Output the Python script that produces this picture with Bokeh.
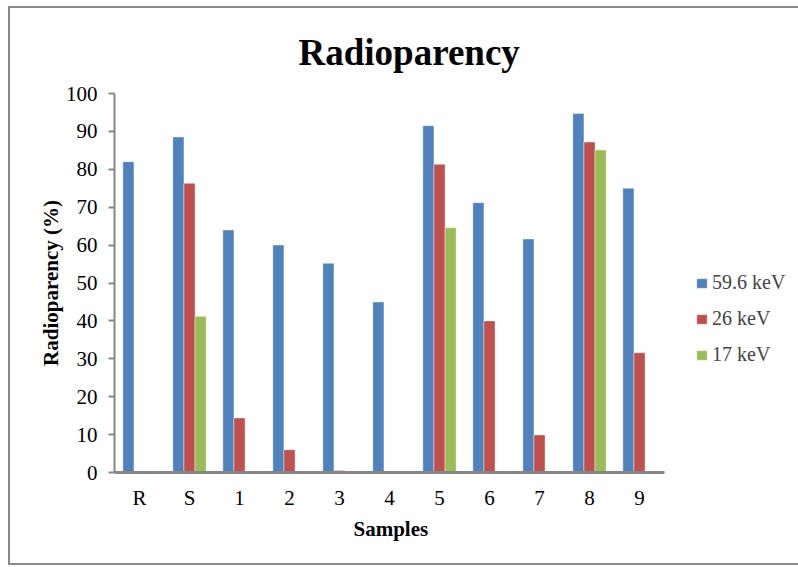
import numpy as np
from bokeh.plotting import figure
from bokeh.models import Range1d, Legend, LegendItem, Title, ColumnDataSource, FixedTicker
from bokeh.transform import dodge
from bokeh.embed import file_html
from bokeh.resources import INLINE

samples = ["R", "S", "1", "2", "3", "4", "5", "6", "7", "8", "9"]
kev_59_6 = [82.0, 88.5, 64.0, 60.0, 55.2, 45.0, 91.5, 71.2, 61.6, 94.7, 75.0]
kev_26 = [0.0, 76.3, 14.4, 6.0, 0.5, 0.0, 81.3, 40.0, 9.9, 87.2, 31.6]
kev_17 = [0.0, 41.2, 0.0, 0.0, 0.0, 0.0, 64.6, 0.0, 0.0, 85.1, 0.0]
series_names = ["59.6 keV", "26 keV", "17 keV"]
colors = ["#4F81BD", "#C0504D", "#9BBB59"]
y_ticks = [0, 10, 20, 30, 40, 50, 60, 70, 80, 90, 100]
title_text = "Radioparency"
x_title = "Samples"
y_title = "Radioparency (%)"

n = len(samples)
centers = np.arange(n) + 0.5          # category centres on a numeric scale
src = ColumnDataSource(dict(x=centers, a=kev_59_6, b=kev_26, c=kev_17))

FONT = "Liberation Serif"
W, H = 790, 559
p = figure(width=W, height=H, output_backend="svg", toolbar_location=None,
           x_range=Range1d(0, 13.72), y_range=Range1d(0, 100),
           min_border_left=104, min_border_right=0, min_border_top=85,
           min_border_bottom=95)
p.styles = {"border-left": "2px solid #8a8a8a", "border-top": "2px solid #8a8a8a",
            "border-bottom": "2px solid #8a8a8a", "box-sizing": "border-box",
            "position": "relative", "left": "8px", "top": "6px"}
p.outline_line_color = None
p.xgrid.grid_line_color = None
p.ygrid.grid_line_color = None

# chart title
p.title.text = title_text
p.title.text_font = FONT
p.title.text_font_size = "37px"
p.title.text_font_style = "bold"
p.title.text_color = "black"
p.title.align = "left"
p.title.vertical_align = "bottom"
p.title.offset = 184
p.title.standoff = 41

bw = 0.222
renderers = []
for col, off, color in zip(["a", "b", "c"], [-bw, 0.0, bw], colors):
    r = p.vbar(x=dodge("x", off), top=col, width=bw, source=src,
               fill_color=color, line_color="white", line_alpha=0.5, line_width=0.8)
    renderers.append(r)

# axes
p.yaxis.ticker = FixedTicker(ticks=y_ticks)
p.yaxis.bounds = (0, 100)
p.xaxis.ticker = FixedTicker(ticks=list(centers))
p.xaxis.major_label_overrides = {float(c): s for c, s in zip(centers, samples)}
p.xaxis.bounds = (0, n)
for ax in (p.xaxis, p.yaxis):
    ax.axis_line_color = "#868686"
    ax.major_label_text_font = FONT
    ax.major_label_text_font_size = "21px"
    ax.major_label_text_color = "black"
    ax.axis_label_text_font = FONT
    ax.axis_label_text_font_style = "bold"
    ax.axis_label_text_font_size = "21px"
    ax.axis_label_text_color = "black"
    ax.minor_tick_line_color = None
p.yaxis.axis_line_width = 2
p.yaxis.major_tick_line_color = "#868686"
p.yaxis.major_tick_line_width = 2
p.yaxis.major_tick_out = 6
p.yaxis.major_tick_in = 0
p.yaxis.major_label_standoff = 11
p.yaxis.axis_label = y_title
p.yaxis.axis_label_standoff = 0
p.xaxis.axis_line_width = 3
p.xaxis.major_tick_line_color = None
p.xaxis.major_label_standoff = 7

# x-axis title, placed under the category axis (which ends at the last category)
p.add_layout(Title(text=x_title, align="left", offset=239, standoff=8,
                   vertical_align="top", text_font=FONT, text_font_size="21px",
                   text_font_style="bold", text_color="black"), "below")

legend = Legend(items=[LegendItem(label=s, renderers=[r]) for s, r in zip(series_names, renderers)],
                location=(581, 106), padding=0, margin=0, border_line_color=None,
                background_fill_alpha=0, glyph_width=13, glyph_height=12,
                label_height=20, spacing=13, label_standoff=4,
                label_text_font=FONT, label_text_font_size="20px")
p.add_layout(legend, "center")

html = file_html(p, INLINE)
open("out.html", "w").write(html)
